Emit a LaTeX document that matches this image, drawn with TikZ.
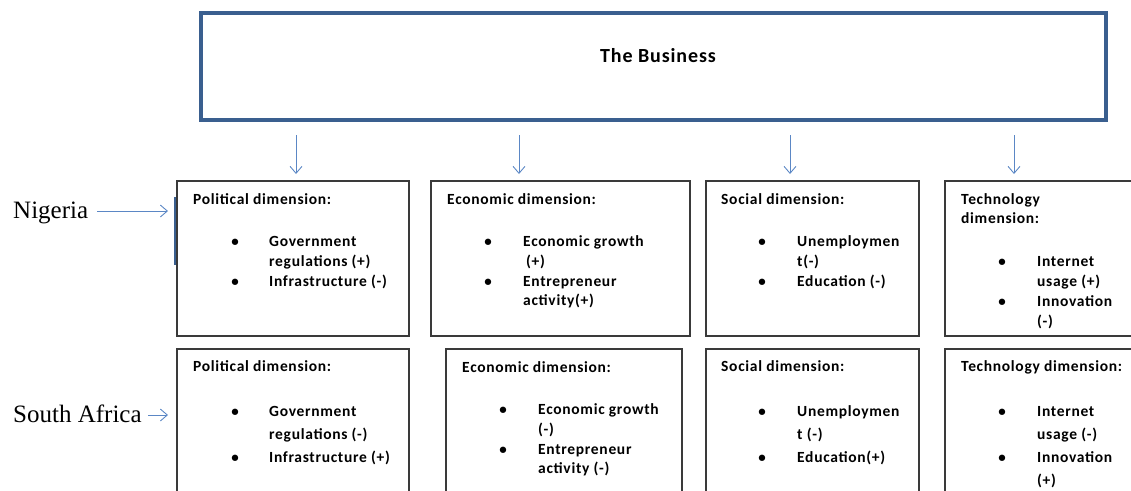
\documentclass[tikz,border=0pt]{standalone}
\usepackage{fontspec}
\setmainfont{Carlito}
\newfontfamily\boxface[LetterSpace=4.5]{Carlito}
\newfontfamily\serifface{Liberation Serif}
\usetikzlibrary{arrows.meta}
\definecolor{bizblue}{HTML}{3A5F8F}
\definecolor{arrowblue}{HTML}{5B87C5}
\definecolor{boxline}{HTML}{3A3A3A}

\newcommand\dimline[4]{\node[lbl] (#1) at (#2,#3) {#4};}
\newcommand\dimbullet[3]{\node[bul] (#1) at (#2,#3) {\textbullet};}

\begin{document}
\begin{tikzpicture}[x=1pt,y=-1pt,
  dimbox/.style={draw=boxline,line width=1.2pt,anchor=north west,inner sep=0pt,outer sep=0pt},
  bizbox/.style={draw=bizblue,line width=3.5pt,anchor=north west,inner sep=0pt,outer sep=0pt},
  lbl/.style={anchor=base west,inner sep=0pt,font=\boxface\fontsize{15.5}{18}\selectfont\bfseries},
  bul/.style={anchor=base,inner sep=0pt,font=\fontsize{15}{18}\selectfont\bfseries},
  country/.style={anchor=base west,inner sep=0pt,font=\serifface\fontsize{25}{28}\selectfont},
  flow/.style={draw=arrowblue,line width=0.9pt,-{Straight Barb[length=7pt,width=12pt]}},
]
\useasboundingbox (0,0) rectangle (1131,490);
\clip (0,0) rectangle (1131,490);

% top box
\node[bizbox,minimum width=905pt,minimum height=107pt] (biz) at (201,13) {};
\node[anchor=base,inner sep=0pt,font=\boxface\fontsize{20}{22}\selectfont\bfseries] (biztext) at (658,62) {The Business};

% arrows from the business down to the dimensions
\foreach \i/\x in {1/296,2/519,3/790,4/1014}{
  \coordinate (d\i top) at (\x,135);
  \coordinate (d\i tip) at (\x,174);
  \draw[flow] (d\i top) -- (d\i tip);
}

% Nigeria row
\node[dimbox,minimum width=232pt,minimum height=155pt] (pa) at (177,181) {};
\node[dimbox,minimum width=259pt,minimum height=155pt] (ea) at (431,181) {};
\node[dimbox,minimum width=213pt,minimum height=155pt] (sa) at (706,181) {};
\node[dimbox,minimum width=200pt,minimum height=155pt] (ta) at (945,181) {};

% South Africa row
\node[dimbox,minimum width=232pt,minimum height=160pt] (pb) at (177,349) {};
\node[dimbox,minimum width=236pt,minimum height=160pt] (eb) at (446,349) {};
\node[dimbox,minimum width=213pt,minimum height=160pt] (sb) at (706,349) {};
\node[dimbox,minimum width=200pt,minimum height=160pt] (tb) at (945,349) {};

% country labels
\node[country] (ng) at (13,218) {Nigeria};
\coordinate (ngtail) at (97,211);
\coordinate (ngtip) at (168,211);
\draw[flow] (ngtail) -- (ngtip);
\coordinate (bartop) at (175,197);
\coordinate (barbot) at (175,265);
\draw[bizblue,line width=2.5pt] (bartop) -- (barbot);

\node[country] (za) at (13,422) {South Africa};
\coordinate (zatail) at (148,415);
\coordinate (zatip) at (168,415);
\draw[flow] (zatail) -- (zatip);

% Nigeria: political
\dimline{pa0}{193}{204}{Political dimension:}
\dimbullet{pab1}{235}{246}\dimbullet{pab2}{235}{286}
\dimline{pa1}{269}{246}{Government}
\dimline{pa2}{269}{266}{regulations (+)}
\dimline{pa3}{269}{286}{Infrastructure (-)}
% Nigeria: economic
\dimline{ea0}{447}{204}{Economic dimension:}
\dimbullet{eab1}{488}{246}\dimbullet{eab2}{488}{286}
\dimline{ea1}{523}{246}{Economic growth}
\dimline{ea2}{526}{266}{(+)}
\dimline{ea3}{523}{286}{Entrepreneur}
\dimline{ea4}{523}{305}{activity(+)}
% Nigeria: social
\dimline{sa0}{721}{204}{Social dimension:}
\dimbullet{sab1}{762}{246}\dimbullet{sab2}{762}{286}
\dimline{sa1}{797}{246}{Unemploymen}
\dimline{sa2}{797}{266}{t(-)}
\dimline{sa3}{797}{286}{Education (-)}
% Nigeria: technology
\dimline{ta0}{961}{204}{Technology}
\dimline{ta0b}{961}{223}{dimension:}
\dimbullet{tab1}{1002}{266}\dimbullet{tab2}{1002}{306}
\dimline{ta1}{1037}{266}{Internet}
\dimline{ta2}{1037}{286}{usage (+)}
\dimline{ta3}{1037}{306}{Innovation}
\dimline{ta4}{1037}{326}{(-)}

% South Africa: political
\dimline{pb0}{193}{371}{Political dimension:}
\dimbullet{pbb1}{235}{416}\dimbullet{pbb2}{235}{462}
\dimline{pb1}{269}{416}{Government}
\dimline{pb2}{269}{439}{regulations (-)}
\dimline{pb3}{269}{462}{Infrastructure (+)}
% South Africa: economic
\dimline{eb0}{462}{372}{Economic dimension:}
\dimbullet{ebb1}{503}{414}\dimbullet{ebb2}{503}{454}
\dimline{eb1}{538}{414}{Economic growth}
\dimline{eb2}{538}{434}{(-)}
\dimline{eb3}{538}{454}{Entrepreneur}
\dimline{eb4}{538}{473}{activity (-)}
% South Africa: social
\dimline{sb0}{721}{371}{Social dimension:}
\dimbullet{sbb1}{762}{416}\dimbullet{sbb2}{762}{462}
\dimline{sb1}{797}{416}{Unemploymen}
\dimline{sb2}{797}{439}{t (-)}
\dimline{sb3}{797}{462}{Education(+)}
% South Africa: technology
\dimline{tb0}{961}{371}{Technology dimension:}
\dimbullet{tbb1}{1002}{416}\dimbullet{tbb2}{1002}{462}
\dimline{tb1}{1037}{416}{Internet}
\dimline{tb2}{1037}{439}{usage (-)}
\dimline{tb3}{1037}{462}{Innovation}
\dimline{tb4}{1037}{485}{(+)}
\end{tikzpicture}
\end{document}
